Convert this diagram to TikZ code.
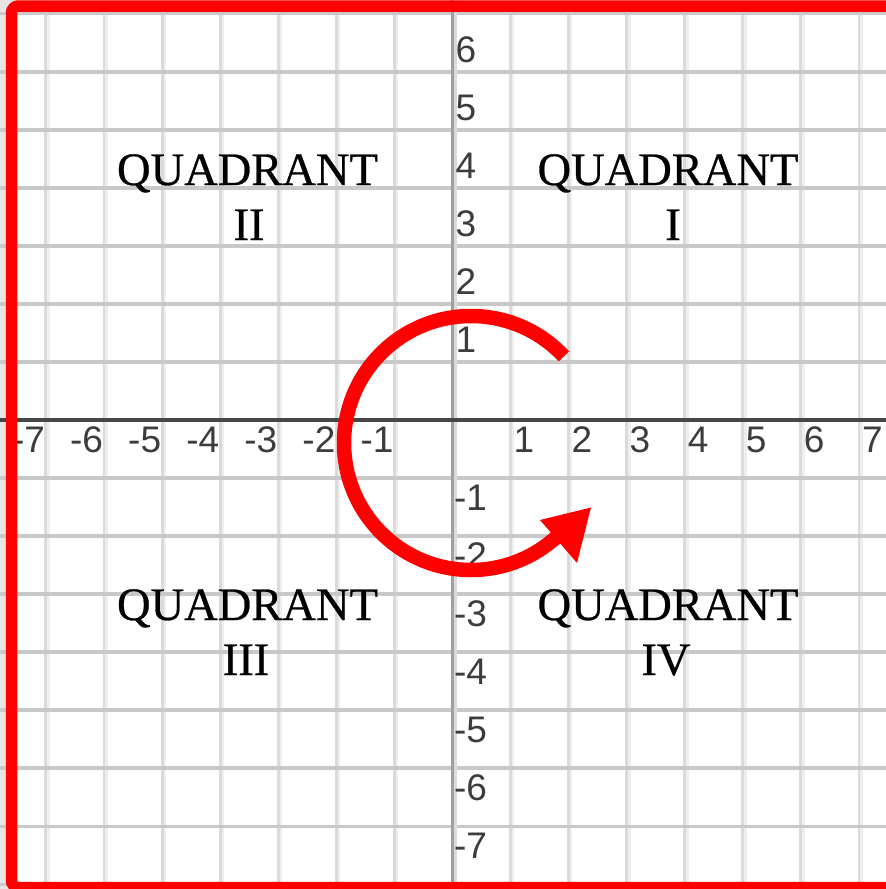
\documentclass[tikz,border=0pt]{standalone}
\usepackage{fontspec}
\newfontfamily\axfont{Liberation Sans}
\newfontfamily\qfont[FakeBold=0.6]{Liberation Serif}
\definecolor{bggrey}{RGB}{232,229,226}
\definecolor{hgrid}{RGB}{200,200,200}
\definecolor{vgrid}{RGB}{218,218,218}
\definecolor{vgridlight}{RGB}{238,238,238}
\definecolor{xaxiscol}{RGB}{70,70,70}
\definecolor{yaxiscol}{RGB}{160,160,160}
\definecolor{labelgrey}{RGB}{60,60,60}
\definecolor{arrowred}{RGB}{255,0,0}
\tikzset{
  axlab/.style={inner sep=0pt, outer sep=0pt, font=\axfont\fontsize{37}{40}\selectfont, text=labelgrey},
  qlab/.style={inner sep=0pt, outer sep=0pt, font=\qfont\fontsize{46.5}{50}\selectfont, text=black},
  hline/.style={hgrid, line width=3.4pt},
  vline/.style={vgrid, line width=3pt},
  vlinelight/.style={vgridlight, line width=2.4pt},
  turnarrow/.style={arrowred, line width=14.5pt},
  frame/.style={arrowred, line width=11.5pt, rounded corners=7pt}
}
\begin{document}
\begin{tikzpicture}[x=1pt,y=-1pt]
\useasboundingbox (0,0) rectangle (886,889);
\clip (0,0) rectangle (886,889);
\fill[bggrey] (0,0) rectangle (886,889);
\fill[white] (11,6) rectangle (886,887);
% vertical grid lines
\foreach \i in {-7,...,7}{
  \draw[vline] ({453.5+58.08*\i-1},0) -- ++(0,889);
  \draw[vlinelight] ({453.5+58.08*\i+1.6},0) -- ++(0,889);
}
% horizontal grid lines
\foreach \j in {-8,...,7}{
  \draw[hline] (0,{420-58.03*\j}) -- ++(886,0);
}
% axes
\draw[yaxiscol, line width=3pt] (452.5,0) -- (452.5,889);
\draw[vgrid, line width=2.6pt] (455.3,0) -- (455.3,889);
\draw[xaxiscol, line width=3.8pt] (0,420) -- (886,420);
% x-axis labels
\foreach \i in {1,...,7}{
  \node[axlab, anchor=base west] (xp\i) at ({453.5+58.08*\i+2},452.5) {\i};
  \node[axlab, anchor=base east] (xn\i) at ({453.5-58.08*\i-2},452.5) {-\i};
}
% y-axis labels
\foreach \j in {1,...,6}{
  \node[axlab, anchor=base west] (yp\j) at (455.5,{420-58.03*\j-9.5}) {\j};
}
\foreach \j in {1,...,7}{
  \node[axlab, anchor=base west] (yn\j) at (454,{420+58.03*\j+32.5}) {-\j};
}
% quadrant names
\node[qlab, anchor=base] (q1a) at (668,185) {QUADRANT};
\node[qlab, anchor=base] (q1b) at (673,240) {I};
\node[qlab, anchor=base] (q2a) at (247.5,185) {QUADRANT};
\node[qlab, anchor=base] (q2b) at (249,240) {II};
\node[qlab, anchor=base] (q3a) at (247.5,620) {QUADRANT};
\node[qlab, anchor=base] (q3b) at (246,675) {III};
\node[qlab, anchor=base] (q4a) at (668,620) {QUADRANT};
\node[qlab, anchor=base] (q4b) at (666,675) {IV};
% rotation arrow
\coordinate (ctr) at (471,443);
\draw[turnarrow] (ctr) ++(-43:127) arc[start angle=-43, end angle=-313, radius=127];
\fill[arrowred] (540,520) -- (591,507.5) -- (577,563) -- cycle;
% red frame
\draw[frame] (11.5,6) rectangle (930,887.5);
\end{tikzpicture}
\end{document}
